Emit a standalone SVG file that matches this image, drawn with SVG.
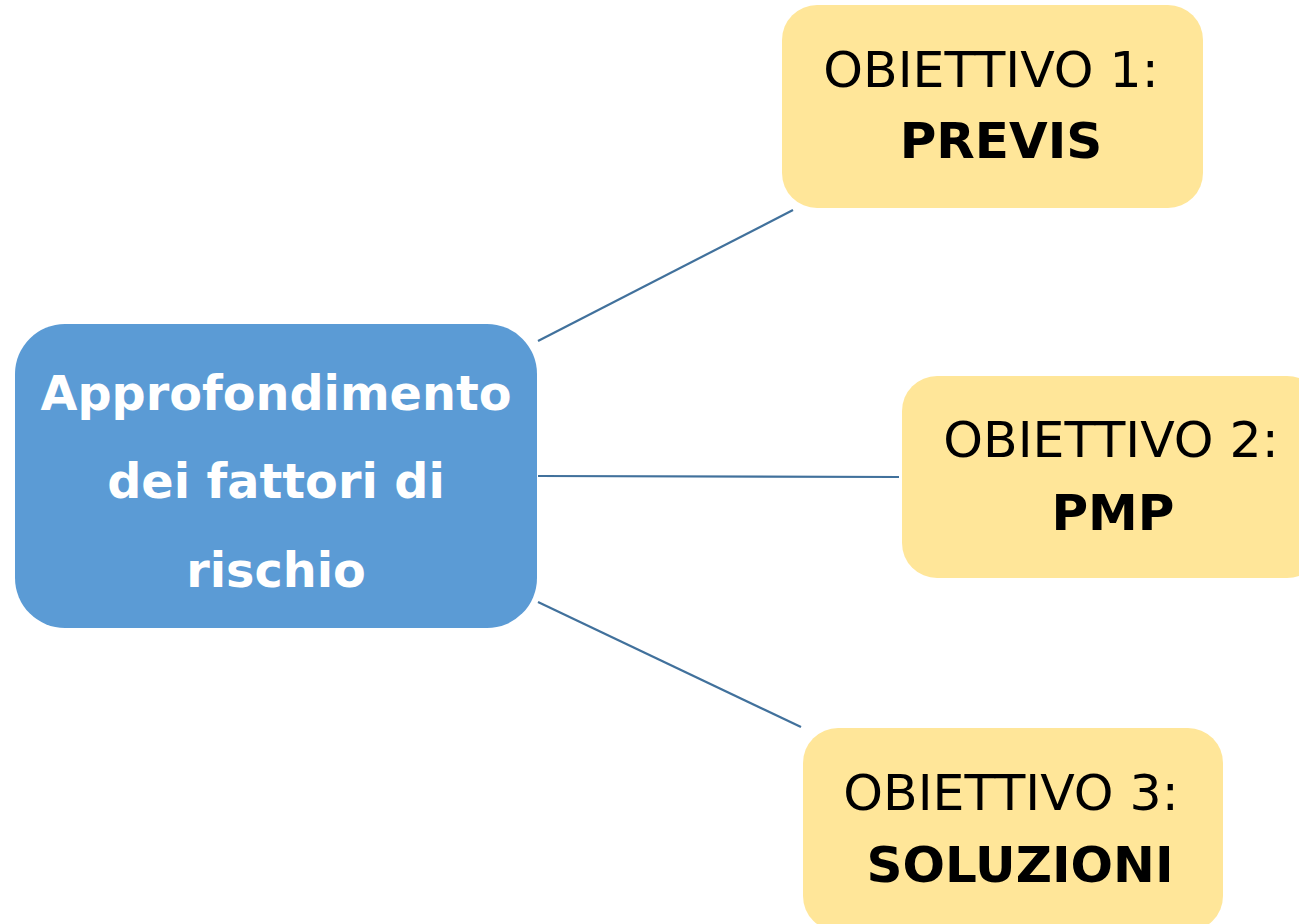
<svg xmlns="http://www.w3.org/2000/svg" width="1299" height="924" viewBox="0 0 1299 924">
<style>
.main{fill:#5B9BD5}
.goal{fill:#FFE699}
.wt{font-family:"DejaVu Sans",Verdana,sans-serif;font-weight:bold;font-size:47.7px;fill:#FFFFFF;text-anchor:middle}
.t1{font-family:"DejaVu Sans",Verdana,sans-serif;font-size:50.5px;fill:#000000;text-anchor:middle}
.t2{font-family:"DejaVu Sans",Verdana,sans-serif;font-weight:bold;font-size:50px;fill:#000000;text-anchor:middle}
.conn{stroke:#41719C;stroke-width:2.2;fill:none}
</style>
<rect width="1299" height="924" fill="#FFFFFF"/>
<g id="connectors">
<line class="conn" x1="538" y1="341" x2="793" y2="210"/>
<line class="conn" x1="538" y1="476" x2="899" y2="477"/>
<line class="conn" x1="538" y1="602" x2="801" y2="727"/>
</g>
<g id="main">
<rect class="main" x="15" y="324" width="522" height="304" rx="50" ry="50"/>
<text class="wt" x="276" y="410">Approfondimento</text>
<text class="wt" x="276" y="498">dei fattori di</text>
<text class="wt" x="276" y="587">rischio</text>
</g>
<g id="obiettivo1">
<rect class="goal" x="782" y="5" width="421" height="203" rx="35" ry="35"/>
<text class="t1" x="991" y="87">OBIETTIVO 1:</text>
<text class="t2" x="1001" y="158">PREVIS</text>
</g>
<g id="obiettivo2">
<rect class="goal" x="902" y="376" width="420" height="202" rx="35" ry="35"/>
<text class="t1" x="1111" y="457">OBIETTIVO 2:</text>
<text class="t2" x="1113" y="530">PMP</text>
</g>
<g id="obiettivo3">
<rect class="goal" x="803" y="728" width="420" height="203" rx="35" ry="35"/>
<text class="t1" x="1011" y="810">OBIETTIVO 3:</text>
<text class="t2" x="1020" y="882">SOLUZIONI</text>
</g>
</svg>
